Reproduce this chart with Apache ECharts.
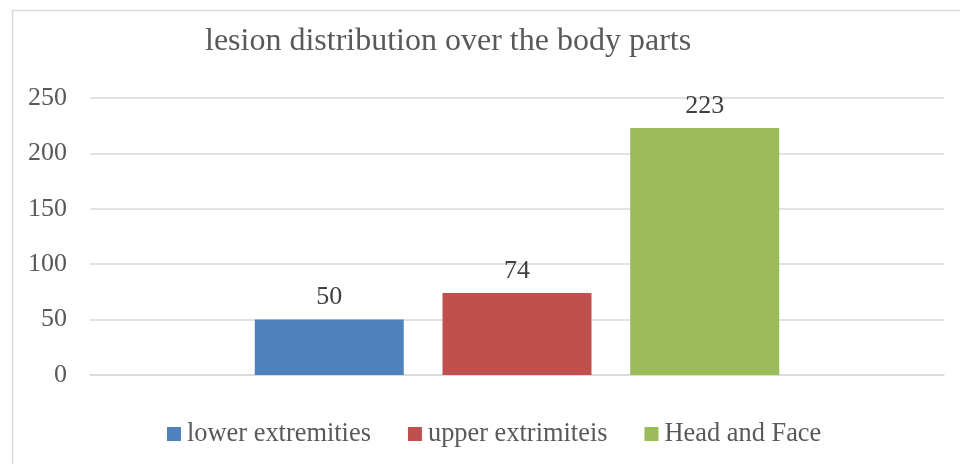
<!DOCTYPE html>
<html>
<head>
<meta charset="utf-8">
<script src="https://cdn.jsdelivr.net/npm/echarts@6/dist/echarts.min.js"></script>
<style>html,body{margin:0;padding:0;background:#fff;}#c{width:960px;height:464px;}</style>
</head>
<body>
<div id="c"></div>
<script>
const categories = ['lesion'];
const seriesNames = ['lower extremities', 'upper extrimiteis', 'Head and Face'];
const lowerExtremities = [50];
const upperExtremities = [74];
const headAndFace = [223];
const seriesColors = ['#4F81BD', '#C0504D', '#9BBB59'];
const yTicks = { min: 0, max: 250, interval: 50 };

const FONT = "'Liberation Serif', 'Times New Roman', serif";
const TXT = '#595959';
const values = [lowerExtremities, upperExtremities, headAndFace];

const chart = echarts.init(document.getElementById('c'), null, { renderer: 'canvas' });
chart.setOption({
  animation: false,
  backgroundColor: '#fff',
  graphic: [{
    type: 'rect', left: 10, top: 8, z: -1,
    shape: { width: 960, height: 470 },
    style: { fill: 'none', stroke: '#D9D9D9', lineWidth: 1.5 }
  }],
  title: {
    text: 'lesion distribution over the body parts',
    left: 200, top: 21,
    textStyle: { fontFamily: FONT, fontSize: 32, fontWeight: 'normal', color: TXT }
  },
  legend: {
    top: 421, left: 167, padding: 0,
    itemWidth: 14, itemHeight: 14, itemGap: 37,
    icon: 'rect',
    textStyle: { fontFamily: FONT, fontSize: 26.4, color: TXT, padding: [0, 0, 0, 1] },
    data: seriesNames
  },
  grid: { left: 90, right: 16, top: 98, bottom: 89, containLabel: false },
  xAxis: {
    type: 'category', data: categories,
    axisLine: { show: true, lineStyle: { color: '#D9D9D9', width: 1.5 } },
    axisTick: { show: false }, axisLabel: { show: false }
  },
  yAxis: {
    type: 'value', min: yTicks.min, max: yTicks.max, interval: yTicks.interval,
    axisLine: { show: false }, axisTick: { show: false },
    axisLabel: { fontFamily: FONT, fontSize: 26, color: TXT, margin: 23 },
    splitLine: { lineStyle: { color: '#D9D9D9', width: 1.5 } }
  },
  series: seriesNames.map((n, i) => ({
    name: n, type: 'bar', data: values[i],
    barWidth: 149, barGap: '26%',
    itemStyle: { color: seriesColors[i] },
    label: { show: true, position: 'top', distance: 9, fontFamily: FONT, fontSize: 26, color: '#404040' }
  }))
});
</script>
</body>
</html>
